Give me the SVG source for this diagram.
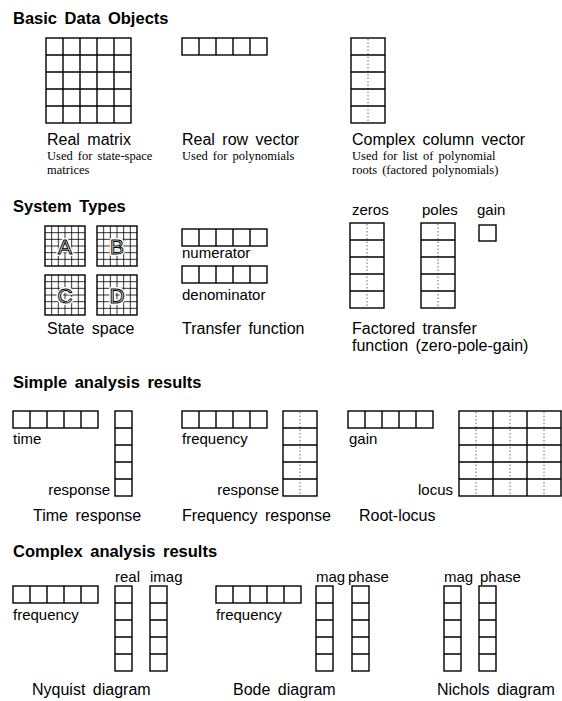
<svg xmlns="http://www.w3.org/2000/svg" xmlns:xlink="http://www.w3.org/1999/xlink" width="562" height="701" viewBox="0 0 562 701">
<style>
.box{fill:none;stroke:#000;stroke-width:1.4}
.fine{fill:none;stroke:#000;stroke-width:0.8}
.dot{fill:none;stroke:#444;stroke-width:0.8;stroke-dasharray:1.5 2}
.h{font-family:"Liberation Sans",Arial,sans-serif;font-weight:bold;font-size:16.5px;word-spacing:3px;fill:#000}
.l{font-family:"Liberation Sans",Arial,sans-serif;font-size:16px;word-spacing:3px;fill:#000}
.s{font-family:"Liberation Sans",Arial,sans-serif;font-size:15px;fill:#000}
.n{font-family:"Liberation Serif","Times New Roman",serif;font-size:12.5px;word-spacing:2px;fill:#000}
.halo{font-family:"Liberation Sans",Arial,sans-serif;font-size:21px;fill:#fff;stroke:#fff;stroke-width:4;stroke-linejoin:round}
.ol{font-family:"Liberation Sans",Arial,sans-serif;font-size:21px;fill:#fff;stroke:#000;stroke-width:1}
</style>
<defs>
<g id="row5"><rect class="box" x="0" y="0" width="85" height="17"/><path class="box" d="M17 0V17M34 0V17M51 0V17M68 0V17"/></g>
<g id="col5"><rect class="box" x="0" y="0" width="17" height="85"/><path class="box" d="M0 17H17M0 34H17M0 51H17M0 68H17"/></g>
<g id="ccol5"><path class="dot" d="M17 1V84"/><rect class="box" x="0" y="0" width="34" height="85"/><path class="box" d="M0 17H34M0 34H34M0 51H34M0 68H34"/></g>
<g id="grid6"><path class="fine" d="M6.67 0V40M13.33 0V40M20 0V40M26.67 0V40M33.33 0V40M0 6.67H40M0 13.33H40M0 20H40M0 26.67H40M0 33.33H40"/><rect class="box" x="0" y="0" width="40" height="40"/></g>
</defs>

<g id="basic-data-objects">
<text class="h" x="13" y="24">Basic Data Objects</text>
<g id="real-matrix">
<rect class="box" x="46" y="38" width="85" height="85"/>
<path class="box" d="M63 38V123M80 38V123M97 38V123M114 38V123M46 55H131M46 72H131M46 89H131M46 106H131"/>
<text class="l" x="47" y="145">Real matrix</text>
<text class="n" x="47" y="160">Used for state-space</text>
<text class="n" x="47" y="174">matrices</text>
</g>
<g id="real-row-vector">
<use href="#row5" x="182" y="38"/>
<text class="l" x="182" y="145">Real row vector</text>
<text class="n" x="182" y="160">Used for polynomials</text>
</g>
<g id="complex-column-vector">
<use href="#ccol5" x="351" y="38"/>
<text class="l" x="352" y="145">Complex column vector</text>
<text class="n" x="352" y="160">Used for list of polynomial</text>
<text class="n" x="352" y="174">roots (factored polynomials)</text>
</g>
</g>

<g id="system-types">
<text class="h" x="13" y="212">System Types</text>
<g id="state-space">
<use href="#grid6" x="45" y="226"/>
<use href="#grid6" x="97" y="226"/>
<use href="#grid6" x="45" y="275"/>
<use href="#grid6" x="97" y="275"/>
<text class="halo" x="65" y="254" text-anchor="middle">A</text><text class="ol" x="65" y="254" text-anchor="middle">A</text>
<text class="halo" x="117" y="254" text-anchor="middle">B</text><text class="ol" x="117" y="254" text-anchor="middle">B</text>
<text class="halo" x="65" y="303" text-anchor="middle">C</text><text class="ol" x="65" y="303" text-anchor="middle">C</text>
<text class="halo" x="117" y="303" text-anchor="middle">D</text><text class="ol" x="117" y="303" text-anchor="middle">D</text>
<text class="l" x="47" y="334">State space</text>
</g>
<g id="transfer-function">
<use href="#row5" x="182" y="229"/>
<text class="s" x="182" y="258">numerator</text>
<use href="#row5" x="182" y="266"/>
<text class="s" x="182" y="300">denominator</text>
<text class="l" x="182" y="334">Transfer function</text>
</g>
<g id="zero-pole-gain">
<text class="s" x="352" y="215">zeros</text>
<text class="s" x="422" y="215">poles</text>
<text class="s" x="477" y="215">gain</text>
<use href="#ccol5" x="350" y="223"/>
<use href="#ccol5" x="421" y="223"/>
<rect class="box" x="479" y="225" width="17" height="16"/>
<text class="l" x="352" y="334">Factored transfer</text>
<text class="l" x="352" y="351">function (zero-pole-gain)</text>
</g>
</g>

<g id="simple-analysis-results">
<text class="h" x="13" y="388">Simple analysis results</text>
<g id="time-response">
<use href="#row5" x="13" y="411"/>
<text class="s" x="13" y="444">time</text>
<use href="#col5" x="115" y="411"/>
<text class="s" x="110" y="495" text-anchor="end">response</text>
<text class="l" x="33" y="521">Time response</text>
</g>
<g id="frequency-response">
<use href="#row5" x="182" y="411"/>
<text class="s" x="182" y="444">frequency</text>
<use href="#ccol5" x="283" y="411"/>
<text class="s" x="279" y="495" text-anchor="end">response</text>
<text class="l" x="182" y="521">Frequency response</text>
</g>
<g id="root-locus">
<use href="#row5" x="348" y="411"/>
<text class="s" x="349" y="444">gain</text>
<path class="dot" d="M476 412V495M510 412V495M544 412V495"/>
<rect class="box" x="459" y="411" width="102" height="85"/>
<path class="box" d="M493 411V496M527 411V496M459 428H561M459 445H561M459 462H561M459 479H561"/>
<text class="s" x="453" y="495" text-anchor="end">locus</text>
<text class="l" x="359" y="521">Root-locus</text>
</g>
</g>

<g id="complex-analysis-results">
<text class="h" x="13" y="557">Complex analysis results</text>
<g id="nyquist-diagram">
<use href="#row5" x="13" y="586"/>
<text class="s" x="13" y="620">frequency</text>
<text class="s" x="115" y="582">real</text>
<text class="s" x="150" y="582">imag</text>
<use href="#col5" x="115" y="586"/>
<use href="#col5" x="150" y="586"/>
<text class="l" x="32" y="695">Nyquist diagram</text>
</g>
<g id="bode-diagram">
<use href="#row5" x="216" y="586"/>
<text class="s" x="216" y="620">frequency</text>
<text class="s" x="316" y="582">mag</text>
<text class="s" x="348" y="582">phase</text>
<use href="#col5" x="316" y="586"/>
<use href="#col5" x="352" y="586"/>
<text class="l" x="233" y="695">Bode diagram</text>
</g>
<g id="nichols-diagram">
<text class="s" x="444" y="582">mag</text>
<text class="s" x="480" y="582">phase</text>
<use href="#col5" x="444" y="586"/>
<use href="#col5" x="479" y="586"/>
<text class="l" x="437" y="695">Nichols diagram</text>
</g>
</g>
</svg>
